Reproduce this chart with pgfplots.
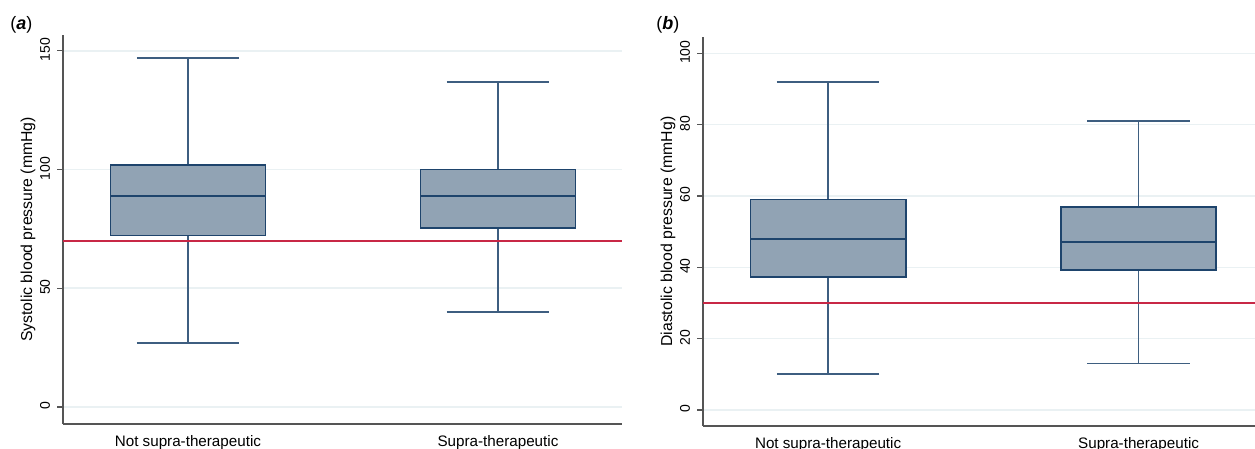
\documentclass[border=0pt]{standalone}
\usepackage{fontspec}
\setmainfont{Liberation Sans}
\usepackage{pgfplots}
\pgfplotsset{compat=1.18}
\usepgfplotslibrary{statistics}
\definecolor{boxfill}{RGB}{145,163,180}
\definecolor{boxedge}{RGB}{30,68,108}
\definecolor{whisk}{RGB}{62,94,128}
\definecolor{refred}{RGB}{200,40,70}
\definecolor{gridc}{RGB}{234,241,243}
\definecolor{axc}{RGB}{85,85,85}
\pgfplotsset{
  stata/.style={
    scale only axis,
    axis lines*=left,
    axis line style={draw=axc, line width=0.8pt},
    xtick={1,2},
    xticklabels={Not supra-therapeutic, Supra-therapeutic},
    major x tick style={draw=none},
    xticklabel style={font=\fontsize{7.6pt}{9pt}\selectfont, yshift=0.8pt},
    ymajorgrids,
    major grid style={draw=gridc, line width=0.8pt},
    tick align=outside,
    major tick length=3pt,
    ytick style={draw=axc, line width=0.6pt},
    yticklabel style={font=\fontsize{7pt}{8pt}\selectfont, rotate=90, anchor=south, xshift=0.6pt},
    /pgf/number format/assume math mode=true,
    ylabel style={font=\fontsize{7.9pt}{9pt}\selectfont},
    clip=false,
    boxplot/draw direction=y,
  },
  mybox/.style={
    fill=boxfill, draw=boxedge, line width=0.9pt, solid,
    boxplot/every whisker/.style={draw=whisk, line width=0.85pt},
    boxplot/every median/.style={draw=boxedge, line width=0.9pt},
  }
}
\begin{document}
\begin{tikzpicture}
\path[use as bounding box] (0,0) rectangle (627.5pt,224.5pt);
% Panel (a)
\begin{axis}[stata,
  at={(31.5pt,12.5pt)}, anchor=south west,
  width=279.5pt, height=194.5pt,
  xmin=0.597, xmax=2.4, ymin=-7.2, ymax=156.7,
  ytick={0,50,100,150},
  ylabel={Systolic blood pressure (mmHg)},
  ylabel style={at={(axis description cs:-0.0626,0.5)}, anchor=center, rotate=0},
]
\addplot[mybox, boxplot prepared={median=89, upper quartile=102, lower quartile=72.2,
  upper whisker=147, lower whisker=27, draw position=1, box extend=0.5, whisker extend=0.33}]
  coordinates {};
\addplot[mybox, boxplot prepared={median=89, upper quartile=100, lower quartile=75.4,
  upper whisker=137, lower whisker=40, draw position=2, box extend=0.5, whisker extend=0.33}]
  coordinates {};
\addplot[refred, line width=0.9pt] coordinates {(0.597,70) (2.4,70)};
\end{axis}
% Panel (b)
\begin{axis}[stata,
  at={(351.5pt,11.5pt)}, anchor=south west,
  width=276pt, height=194.35pt,
  xmin=0.597, xmax=2.375, ymin=-4.5, ymax=104.5,
  ytick={0,20,40,60,80,100},
  ylabel={Diastolic blood pressure (mmHg)},
  ylabel style={at={(axis description cs:-0.0634,0.5)}, anchor=center, rotate=0},
]
\addplot[mybox, boxplot prepared={median=48, upper quartile=59, lower quartile=37.3,
  upper whisker=92, lower whisker=10, draw position=1, box extend=0.5, whisker extend=0.33}]
  coordinates {};
\addplot[mybox, boxplot prepared={median=47, upper quartile=56.8, lower quartile=39.3,
  upper whisker=81, lower whisker=13, draw position=2, box extend=0.5, whisker extend=0.33}]
  coordinates {};
\addplot[refred, line width=0.9pt] coordinates {(0.597,30) (2.375,30)};
\end{axis}
\node[anchor=west, font=\fontsize{9pt}{10pt}\selectfont, inner sep=0pt] at (5pt,212pt) {(\textbf{\textit{a}})};
\node[anchor=west, font=\fontsize{9pt}{10pt}\selectfont, inner sep=0pt] at (328pt,212pt) {(\textbf{\textit{b}})};
\end{tikzpicture}
\end{document}
